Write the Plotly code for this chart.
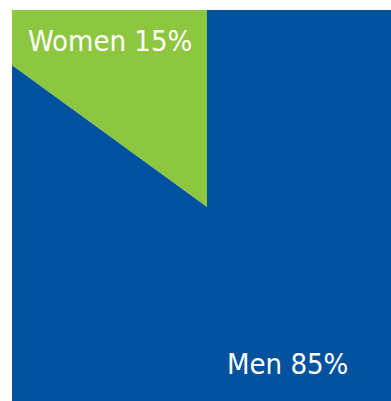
import numpy as np
import plotly.graph_objects as go

# Gender split
labels = ["Women", "Men"]
shares = [15, 85]
colors = ["#8DC63F", "#00529F"]

# Pie drawn as filled wedges around the origin, starting at 12 o'clock and
# running counter-clockwise; the radius is large so the wedges fill the frame.
R = 600
fig = go.Figure()
start = 90.0
label_pos = [(-97, 166), (80, -157)]
for name, share, col, (tx, ty) in zip(labels, shares, colors, label_pos):
    sweep = 360.0 * share / sum(shares)
    ang = np.radians(np.linspace(start, start + sweep, 200))
    xs = np.concatenate([[0], R * np.cos(ang), [0]])
    ys = np.concatenate([[0], R * np.sin(ang), [0]])
    fig.add_trace(go.Scatter(x=xs, y=ys, mode="lines", fill="toself",
                             fillcolor=col, line=dict(width=0, color=col),
                             hoverinfo="skip", showlegend=False))
    fig.add_annotation(x=tx, y=ty, text=f"{name} {share}%", showarrow=False,
                       font=dict(family="DejaVu Sans Condensed, DejaVu Sans",
                                 size=29, color="white"))
    start += sweep

fig.update_xaxes(range=[-195, 184], visible=False, fixedrange=True)
fig.update_yaxes(range=[-194, 197], visible=False, fixedrange=True)
fig.update_layout(width=391, height=401,
                  margin=dict(l=12, r=0, t=10, b=0),
                  paper_bgcolor="white", plot_bgcolor="white")
fig.write_html("out.html")
